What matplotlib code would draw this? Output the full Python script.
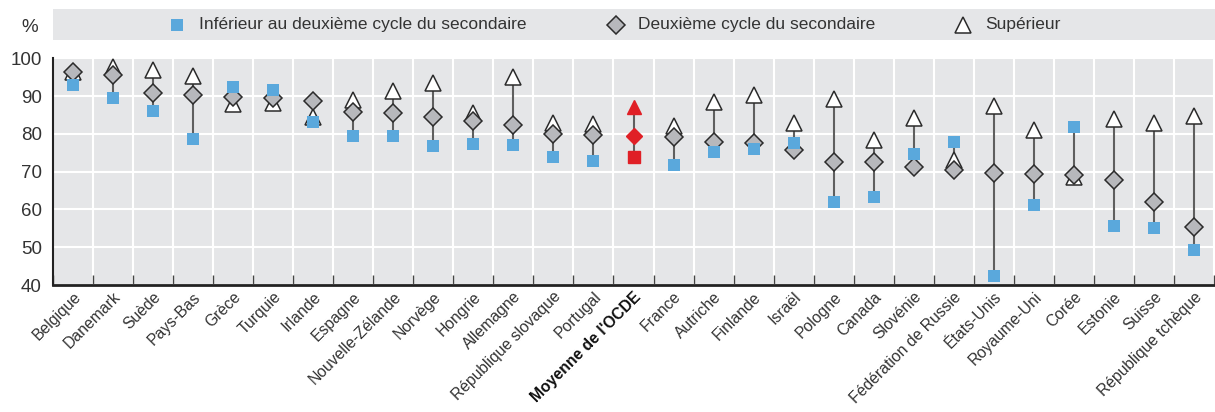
import matplotlib
matplotlib.use("Agg")
import matplotlib.pyplot as plt
from matplotlib.lines import Line2D
from matplotlib.patches import Rectangle
import numpy as np

countries = ["Belgique", "Danemark", "Suède", "Pays-Bas", "Grèce", "Turquie", "Irlande",
             "Espagne", "Nouvelle-Zélande", "Norvège", "Hongrie", "Allemagne",
             "République slovaque", "Portugal", "Moyenne de l'OCDE", "France", "Autriche",
             "Finlande", "Israël", "Pologne", "Canada", "Slovénie", "Fédération de Russie",
             "États-Unis", "Royaume-Uni", "Corée", "Estonie", "Suisse", "République tchèque"]
lower_secondary = [92.9, 89.4, 86.0, 78.7, 92.3, 91.6, 83.1, 79.4, 79.4, 76.9, 77.3, 77.1,
                   74.0, 72.8, 74.0, 71.8, 75.3, 76.0, 77.7, 62.0, 63.4, 74.7, 77.9,
                   42.5, 61.2, 81.9, 55.6, 55.1, 49.3]
upper_secondary = [96.5, 95.6, 90.9, 90.4, 89.8, 89.4, 88.8, 85.8, 85.6, 84.4, 83.5, 82.3,
                   80.0, 79.7, 79.4, 79.2, 77.8, 77.5, 75.7, 72.5, 72.5, 71.1, 70.4,
                   69.7, 69.4, 69.1, 67.8, 61.9, 55.4]
tertiary = [96.5, 97.8, 96.9, 95.3, 87.9, 88.1, 84.4, 89.0, 91.4, 93.4, 85.6, 95.1,
            83.0, 82.6, 87.2, 82.2, 88.5, 90.3, 83.0, 89.1, 78.4, 84.1, 73.1,
            87.5, 81.0, 68.7, 83.9, 83.0, 84.8]
legend_labels = ["Inférieur au deuxième cycle du secondaire",
                 "Deuxième cycle du secondaire", "Supérieur"]
y_ticks = [40, 50, 60, 70, 80, 90, 100]
oecd_label = "Moyenne de l'OCDE"

FONT = ["Liberation Sans", "DejaVu Sans"]
plt.rcParams["font.family"] = FONT

BLUE = "#5aa8dc"
GRAY = "#b7b8bc"
EDGE = "#2b2b2b"
RED = "#e01f26"
BG = "#e5e6e8"
TXT = "#333333"

W, H = 1215, 412
fig = plt.figure(figsize=(W / 100, H / 100), dpi=100)
ax = fig.add_axes([53 / W, 1 - 285 / H, (1214 - 53) / W, (285 - 58.3) / H])
ax.set_facecolor(BG)

n = len(countries)
x = np.arange(n)
for i in range(n):
    vals = [lower_secondary[i], upper_secondary[i], tertiary[i]]
    is_oecd = countries[i] == oecd_label
    ax.plot([x[i], x[i]], [min(vals), max(vals)], color="#5f5f5f", lw=1.5, zorder=2)
    if is_oecd:
        ax.plot(x[i], tertiary[i], marker="^", ms=10, mfc=RED, mec=RED, ls="none", zorder=3)
        ax.plot(x[i], upper_secondary[i], marker="D", ms=8.5, mfc=RED, mec=RED, ls="none", zorder=4)
        ax.plot(x[i], lower_secondary[i], marker="s", ms=8.5, mfc=RED, mec=RED, ls="none", zorder=5)
    else:
        ax.plot(x[i], tertiary[i], marker="^", ms=11, mfc="white", mec=EDGE, mew=1.1, ls="none", zorder=3)
        ax.plot(x[i], upper_secondary[i], marker="D", ms=9, mfc=GRAY, mec=EDGE, mew=1.1, ls="none", zorder=4)
        ax.plot(x[i], lower_secondary[i], marker="s", ms=8.5, mfc=BLUE, mec=BLUE, mew=0, ls="none", zorder=5)

ax.set_xlim(-0.5, n - 0.5)
ax.set_ylim(40, 100)
ax.set_yticks(y_ticks)
ax.set_xticks(np.arange(n + 1) - 0.5)
ax.set_xticklabels([])
ax.set_xticks(x, minor=True)
ax.set_xticklabels(countries, minor=True, rotation=45, ha="right", rotation_mode="anchor",
                   fontsize=11.3, color=TXT)
for lab in ax.get_xticklabels(minor=True):
    if lab.get_text() == oecd_label:
        lab.set_fontweight("bold")
        lab.set_color("#111111")
ax.tick_params(axis="x", which="major", direction="in", length=7, width=1, color="#444444")
ax.tick_params(axis="x", which="minor", length=0, pad=3)
ax.tick_params(axis="y", length=0, labelsize=13.5, labelcolor=TXT, pad=8)

ax.grid(True, axis="y", color="white", lw=1.5, zorder=0)
ax.grid(True, axis="x", which="major", color="white", lw=1.5, zorder=0)
ax.set_axisbelow(True)
for s in ["top", "right"]:
    ax.spines[s].set_visible(False)
ax.spines["left"].set_color("#222222")
ax.spines["left"].set_linewidth(1.5)
ax.spines["bottom"].set_color("#222222")
ax.spines["bottom"].set_linewidth(2)

# "%" label
fig.text(30 / W, 1 - 28 / H, "%", fontsize=13.5, color=TXT, ha="center", va="center")

# legend band
fig.patches.append(Rectangle((53 / W, 1 - 40 / H), (1215 - 53) / W, 31 / H,
                             transform=fig.transFigure, facecolor=BG, edgecolor="none", zorder=0))
ly = 1 - 25 / H
handles = [dict(marker="s", ms=8.5, mfc=BLUE, mec=BLUE, mew=0),
           dict(marker="D", ms=9, mfc=GRAY, mec=EDGE, mew=1.1),
           dict(marker="^", ms=11, mfc="white", mec=EDGE, mew=1.1)]
mx = [177, 616, 963]
for h, m, lab in zip(handles, mx, legend_labels):
    fig.add_artist(Line2D([m / W], [ly], transform=fig.transFigure, ls="none", **h))
    fig.text((m + 22) / W, ly, lab, fontsize=12.5, color=TXT, ha="left", va="center")

fig.savefig("out.png", dpi=100)
